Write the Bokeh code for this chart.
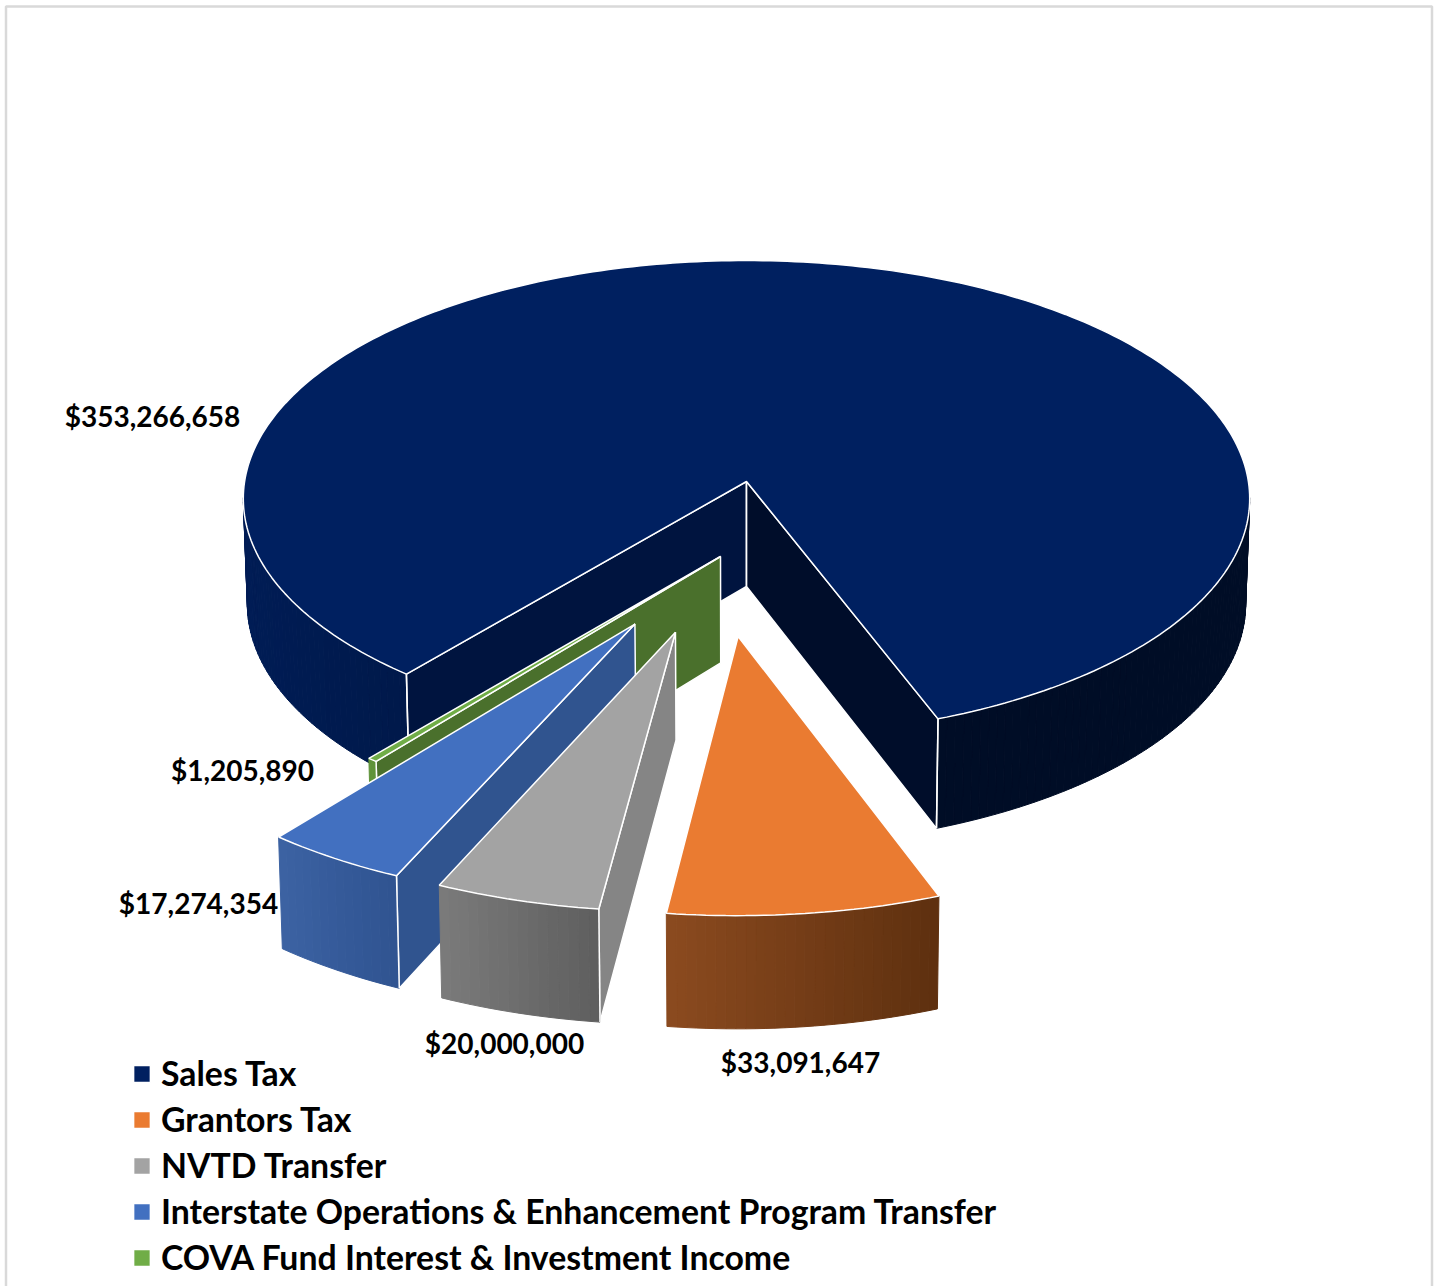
import math
from bokeh.plotting import figure
from bokeh.models import Legend, LegendItem, Range1d
from bokeh.core.properties import value
from bokeh.embed import file_html
from bokeh.resources import INLINE

categories = ["Sales Tax", "Grantors Tax", "NVTD Transfer",
              "Interstate Operations & Enhancement Program Transfer",
              "COVA Fund Interest & Investment Income"]
values = [353266658, 33091647, 20000000, 17274354, 1205890]
top_colors = ["#002060", "#ea7b31", "#a3a3a3", "#4270c0", "#70ad47"]
cut_colors = ["#00143f", "#6e3a14", "#858585", "#30548f", "#4a702c"]
wall_left = ["#001c55", "#8b4a1f", "#7b7b7b", "#3c62a3", "#5f9339"]
wall_right = ["#00194a", "#5e300f", "#5e5e5e", "#2f5390", "#5f9339"]
label_centers = [(152, 415), (800, 1061), (504, 1042), (198, 902), (242, 769)]
offsets = [(0, 0), (-0.016, 0.629), (-0.1357, 0.6127), (-0.2136, 0.5805), (-0.0507, 0.3113)]
radii = [1.0, 1.008, 1.01, 1.01, 1.01]

FIRST = 219.8
CX, CY, A = 746, 481, 501.9
SALES_PERSP = (236.9, 0.072)
SLICE_PERSP = (235.9, 0.0675)
EDGE = "#ffffff"

def proj(u, v, persp):
    b, k = persp
    w = 1 - k * v
    return CX + A * u / w, CY + b * v / w

def drop(pt):
    return CX + (pt[0] - CX) * 0.992, pt[1] + 105 + (pt[1] - CY) * 0.0189

def rim(i, deg, r):
    t = math.radians(deg)
    return proj(offsets[i][0] + r * math.sin(t), offsets[i][1] - r * math.cos(t),
                SALES_PERSP if i == 0 else SLICE_PERSP)

def mix(c1, c2, f):
    a = [int(c1[j:j + 2], 16) for j in (1, 3, 5)]
    b = [int(c2[j:j + 2], 16) for j in (1, 3, 5)]
    return "#%02x%02x%02x" % tuple(round(x + (y - x) * f) for x, y in zip(a, b))

p = figure(width=1439, height=1286, output_backend="svg", toolbar_location=None,
           x_range=Range1d(0, 1439), y_range=Range1d(1286, 0),
           min_border=0, outline_line_color=None, background_fill_color="white")
p.axis.visible = False
p.grid.visible = False
p.styles = {"position": "absolute", "left": "0px", "top": "0px"}

p.quad(left=5.5, right=1431.5, top=6, bottom=1320, fill_color=None,
       line_color="#d9d9d9", line_width=2.5)

def wall(d1, d2, i, c_left, c_right, r):
    n = max(4, int(abs(d2 - d1)))
    pts = [rim(i, d1 + (d2 - d1) * j / n, r) for j in range(n + 1)]
    xmin, xmax = min(q[0] for q in pts), max(q[0] for q in pts)
    xs, ys, cs = [], [], []
    for j in range(n):
        a, b = pts[j], pts[j + 1]
        da, db = drop(a), drop(b)
        xs.append([a[0], b[0], db[0], da[0]])
        ys.append([a[1], b[1], db[1], da[1]])
        f = ((a[0] + b[0]) / 2 - xmin) / max(xmax - xmin, 1)
        cs.append(mix(c_left, c_right, f))
    p.patches(xs, ys, fill_color=cs, line_color=cs, line_width=1)

def cut(i, deg, color, r):
    a, c = rim(i, 0, 0), rim(i, deg, r)
    da, dc = drop(a), drop(c)
    p.patch([a[0], c[0], dc[0], da[0]], [a[1], c[1], dc[1], da[1]],
            fill_color=color, line_color=EDGE, line_width=1.5)

def vertical(i, deg, r, alpha=1.0):
    c = rim(i, deg, r)
    d = drop(c)
    p.line([c[0], d[0]], [c[1], d[1]], line_color=EDGE, line_width=1.5, line_alpha=alpha)

def top(i, d1, d2, r):
    n = max(4, int(abs(d2 - d1)))
    pts = [rim(i, 0, 0)] + [rim(i, d1 + (d2 - d1) * j / n, r) for j in range(n + 1)]
    return p.patch([q[0] for q in pts], [q[1] for q in pts], fill_color=top_colors[i],
                   line_color=EDGE, line_width=1.5)

total = sum(values)
spans = []
start = FIRST
for val in values:
    spans.append((start, start + 360 * val / total))
    start = spans[-1][1]

renderers = []
# Sales Tax: stays in place, cut faces meet at the apex
s1, s2 = spans[0]
sil_left, sil_right = 266.1, 93.9
wall(s1, sil_left, 0, wall_left[0], wall_right[0], radii[0])
wall(360 + sil_right, s2, 0, "#000d26", "#000d26", radii[0])
cut(0, s1, cut_colors[0], radii[0])
p.patch(*zip(*[rim(0, 0, 0), rim(0, s2, 1.0), drop(rim(0, s2, 1.0)), drop(rim(0, 0, 0))]),
        fill_color="#000d2a", line_color=EDGE, line_width=1.5)
vertical(0, s1, radii[0])
vertical(0, s2, radii[0])
vertical(0, 0, 0, 0.5)
renderers.append(top(0, s1, s2, radii[0]))

# exploded slices, back to front
tops = {}
for i in (4, 3, 2, 1):
    d1, d2 = spans[i]
    if i != 1:
        cut(i, d1, cut_colors[i], radii[i])
    wall(d1, d2, i, wall_left[i], wall_right[i], radii[i])
    if i != 1:
        vertical(i, d1, radii[i])
    tops[i] = top(i, d1, d2, radii[i])
renderers += [tops[1], tops[2], tops[3], tops[4]]

label_text = ["${:,}".format(v) for v in values]
p.text([c[0] for c in label_centers], [c[1] for c in label_centers], text=label_text,
       text_font=value("Lato"), text_font_style="bold", text_font_size="28px",
       text_color="#000000", text_align="center", text_baseline="middle")

legend = Legend(items=[LegendItem(label=c, renderers=[r]) for c, r in zip(categories, renderers)],
                location=(131, 9), orientation="vertical", padding=0, margin=0,
                spacing=6, glyph_width=21, glyph_height=21, label_standoff=9,
                label_text_font="Lato", label_text_font_style="bold",
                label_text_font_size="33.8px", label_text_color="#000000",
                background_fill_alpha=0, border_line_color=None)
p.add_layout(legend)

open("out.html", "w").write(file_html(p, INLINE))
